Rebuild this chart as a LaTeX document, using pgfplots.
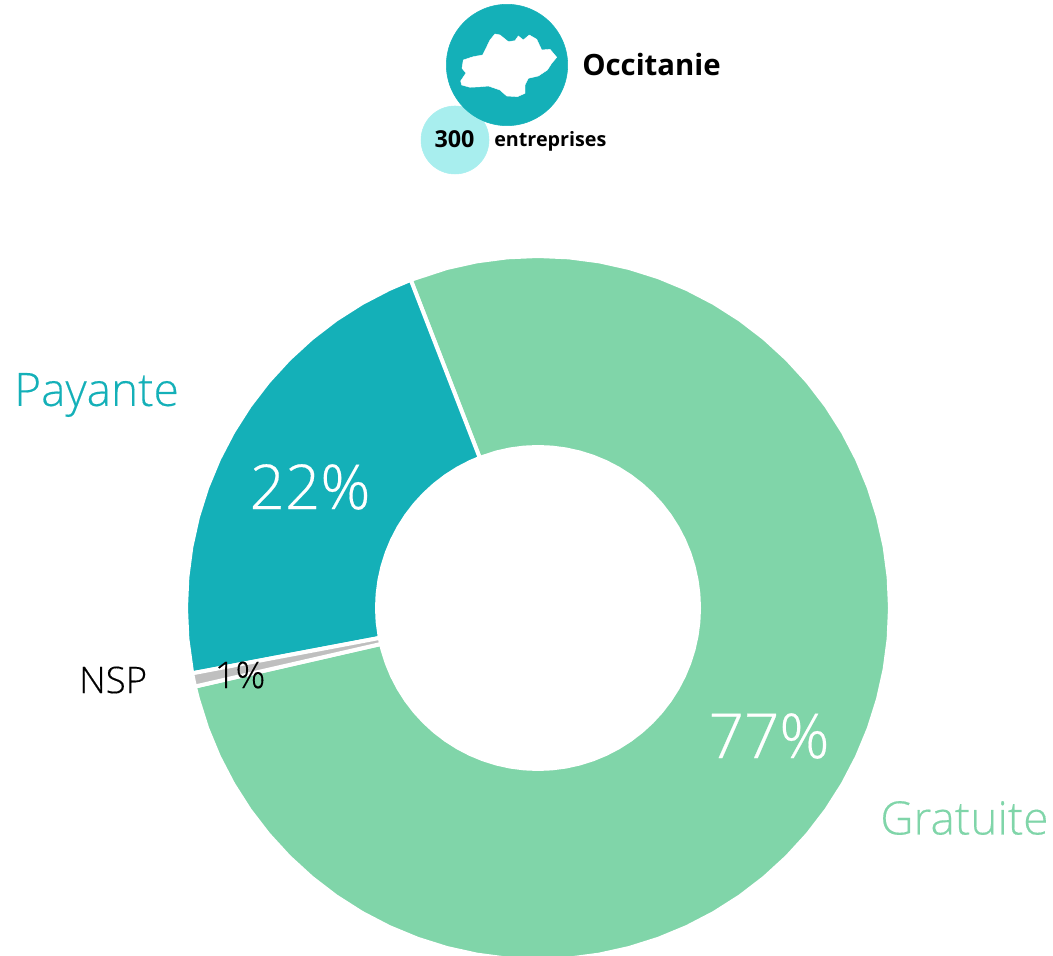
\documentclass[border=0pt]{standalone}
\usepackage{pgfplots}
\pgfplotsset{compat=1.18}
\usepackage{fontspec}
\setmainfont{Open Sans}
\newfontfamily\lightf[FakeBold=0.3]{Open Sans Light}
\definecolor{teal1}{HTML}{14B0B8}
\definecolor{green1}{HTML}{80D5A9}
\definecolor{grey1}{HTML}{BFBFBF}
\definecolor{light1}{HTML}{A8EEEE}
\pgfplotsset{canvas/.style={
  hide axis, scale only axis, width=789.75pt, height=717pt, anchor=south west, at={(0,0)},
  clip=true, axis on top=false}}
% Shares, as angles (degrees) around the ring; radii in pixels: outer 352, inner 161 (a 2 px white stroke eats into each)
\pgfplotstableread{
a r
111.2 352
115 352
120 352
125 352
130 352
135 352
140 352
145 352
150 352
155 352
160 352
165 352
170 352
175 352
180 352
185 352
190.7 352
190.7 161
185 161
180 161
175 161
170 161
165 161
160 161
155 161
150 161
145 161
140 161
135 161
130 161
125 161
120 161
115 161
111.2 161
}\payante
\pgfplotstableread{
a r
190.7 352
192.9 352
192.9 161
190.7 161
}\nsp
\pgfplotstableread{
a r
192.9 352
195 352
200 352
205 352
210 352
215 352
220 352
225 352
230 352
235 352
240 352
245 352
250 352
255 352
260 352
265 352
270 352
275 352
280 352
285 352
290 352
295 352
300 352
305 352
310 352
315 352
320 352
325 352
330 352
335 352
340 352
345 352
350 352
355 352
360 352
365 352
370 352
375 352
380 352
385 352
390 352
395 352
400 352
405 352
410 352
415 352
420 352
425 352
430 352
435 352
440 352
445 352
450 352
455 352
460 352
465 352
471.2 352
471.2 161
465 161
460 161
455 161
450 161
445 161
440 161
435 161
430 161
425 161
420 161
415 161
410 161
405 161
400 161
395 161
390 161
385 161
380 161
375 161
370 161
365 161
360 161
355 161
350 161
345 161
340 161
335 161
330 161
325 161
320 161
315 161
310 161
305 161
300 161
295 161
290 161
285 161
280 161
275 161
270 161
265 161
260 161
255 161
250 161
245 161
240 161
235 161
230 161
225 161
220 161
215 161
210 161
205 161
200 161
195 161
192.9 161
}\gratuite
\begin{document}
\begin{tikzpicture}
\path[use as bounding box] (0,0) rectangle (789.75pt,717pt);
\begin{axis}[canvas, xmin=-538, xmax=515, ymin=-348, ymax=608]
\addplot[data cs=polar, fill=green1, draw=white, line width=3pt, line join=miter] table[x=a,y=r] {\gratuite} -- cycle;
\addplot[data cs=polar, fill=teal1, draw=white, line width=3pt, line join=miter] table[x=a,y=r] {\payante} -- cycle;
\addplot[data cs=polar, fill=grey1, draw=white, line width=3pt, line join=miter] table[x=a,y=r] {\nsp} -- cycle;
\end{axis}
\begin{axis}[canvas, xmin=0, xmax=1053, ymin=0, ymax=956, y dir=reverse]
\addplot[only marks, mark=*, mark size=25.5pt, color=light1] coordinates {(455,140)};
\addplot[only marks, mark=*, mark size=45.5pt, color=teal1] coordinates {(507,65)};
\end{axis}
\begin{axis}[canvas, xmin=0, xmax=1053, ymin=0, ymax=956, y dir=reverse]
\addplot[fill=white, draw=white, line width=0.3pt] coordinates {
(463.3,60)(473.3,56.7)(482.7,55)(486,48.3)(490,40)(495,34)(500,35)(508.3,41.7)(515,40.7)(518.3,36)(523.3,40)(529.3,35)(536.7,39.3)(541.7,50)(550,49.3)(556.7,57.3)(551.7,63.3)(547.3,70)(538.3,76)(528.3,78.3)(525,85)(525,93.3)(517.3,96.7)(506.7,96)(500,90)(488.3,86)(481.7,86.7)(470,87.3)(461.7,85)(460.7,81)(466,73)(462,68.3)} -- cycle;
\node[anchor=west, inner sep=0pt, font=\fontsize{22pt}{26pt}\bfseries] at (axis cs:582,65) {Occitanie};
\node[anchor=center, inner sep=0pt, font=\fontsize{17.5pt}{20pt}\bfseries] at (axis cs:454.5,139) {300};
\node[anchor=west, inner sep=0pt, font=\fontsize{14.8pt}{18pt}\bfseries] at (axis cs:494,141) {entreprises};
\node[anchor=west, inner sep=0pt, text=teal1, font=\fontsize{34.5pt}{38pt}\lightf] at (axis cs:14,395) {Payante};
\node[anchor=west, inner sep=0pt, text=green1, font=\fontsize{34.5pt}{38pt}\lightf] at (axis cs:880,818) {Gratuite};
\node[anchor=center, inner sep=0pt, text=white, font=\fontsize{46.5pt}{50pt}\lightf] at (axis cs:310,487) {22\%};
\node[anchor=center, inner sep=0pt, text=white, font=\fontsize{46.5pt}{50pt}\lightf] at (axis cs:769,736) {77\%};
\node[anchor=west, inner sep=0pt, font=\fontsize{27.5pt}{30pt}\lightf] at (axis cs:79,680) {NSP};
\node[anchor=center, inner sep=0pt, font=\fontsize{27.5pt}{30pt}\lightf] at (axis cs:240,675) {1\%};
\end{axis}
\end{tikzpicture}
\end{document}
